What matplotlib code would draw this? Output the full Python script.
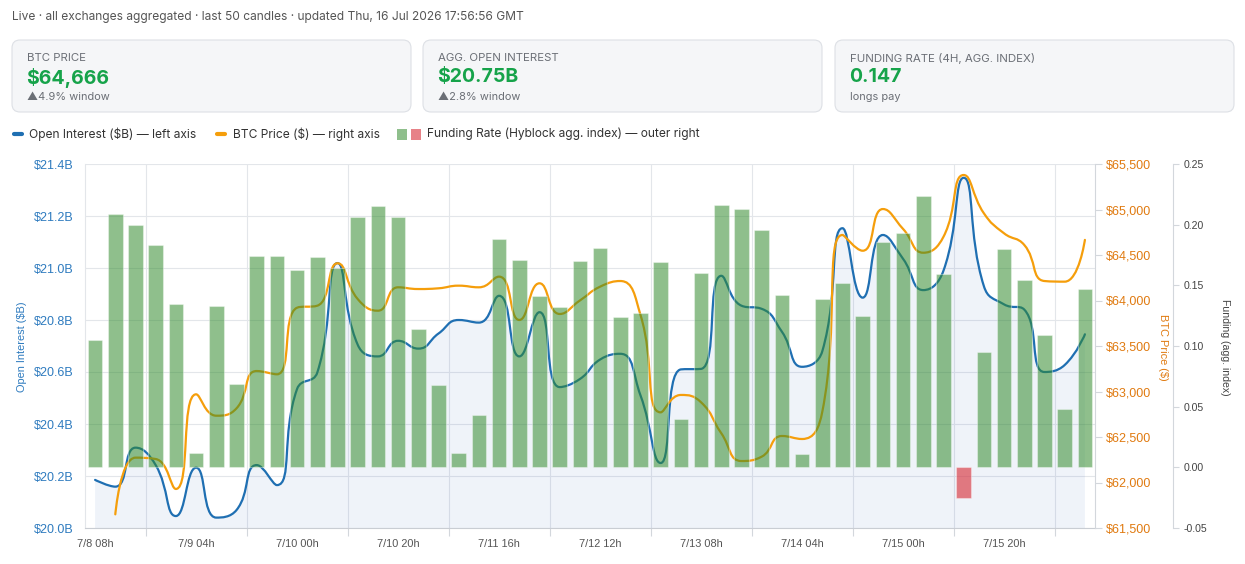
import numpy as np
import matplotlib
matplotlib.use("Agg")
import matplotlib.pyplot as plt
from matplotlib.path import Path
from matplotlib.patches import PathPatch, FancyBboxPatch, Rectangle
from matplotlib.lines import Line2D

plt.rcParams['font.family'] = ['Liberation Sans', 'DejaVu Sans']
UI_FONT = ['Inter', 'DejaVu Sans']

W, H = 1245, 564

# 4h candles, 7/8 08h .. 7/16 12h
oi_b = [20.185, 20.159, 20.309, 20.242, 20.046, 20.232, 20.040, 20.069, 20.242, 20.165,
        20.535, 20.598, 21.019, 20.705, 20.660, 20.720, 20.690, 20.748, 20.800, 20.790,
        20.893, 20.660, 20.830, 20.542, 20.573, 20.648, 20.670, 20.510, 20.250, 20.610,
        20.612, 20.970, 20.855, 20.843, 20.755, 20.620, 20.680, 21.153, 20.886, 21.127,
        21.035, 20.915, 20.990, 21.347, 20.930, 20.860, 20.840, 20.600, 20.627, 20.745]

price = [np.nan, 61650, 62273, 62258, 61929, 62969, 62734, 62815, 63225, 63189,
         63921, 63943, 64409, 64016, 63888, 64145, 64126, 64134, 64163, 64145,
         64262, 63786, 64189, 63852, 64000, 64152, 64214, 63841, 62771, 62962,
         62881, 62541, 62236, 62284, 62511, 62478, 62778, 64720, 64547, 65005,
         64786, 64525, 64701, 65379, 64958, 64738, 64610, 64214, 64207, 64666]

funding = [0.105, 0.209, 0.200, 0.183, 0.135, 0.012, 0.133, 0.069, 0.174, 0.174,
           0.163, 0.173, 0.164, 0.206, 0.215, 0.206, 0.114, 0.068, 0.012, 0.043,
           0.188, 0.171, 0.141, 0.132, 0.170, 0.181, 0.124, 0.127, 0.169, 0.040,
           0.160, 0.216, 0.213, 0.196, 0.142, 0.011, 0.139, 0.152, 0.125, 0.186,
           0.193, 0.224, 0.159, -0.025, 0.095, 0.180, 0.154, 0.109, 0.048, 0.147]

x_labels = ['7/8 08h', '7/9 04h', '7/10 00h', '7/10 20h', '7/11 16h',
            '7/12 12h', '7/13 08h', '7/14 04h', '7/15 00h', '7/15 20h']
label_step = 5

oi_ticks = [20.0, 20.2, 20.4, 20.6, 20.8, 21.0, 21.2, 21.4]
price_ticks = [61500, 62000, 62500, 63000, 63500, 64000, 64500, 65000, 65500]
fund_ticks = [-0.05, 0.0, 0.05, 0.10, 0.15, 0.20, 0.25]

cards = [("BTC PRICE", "$64,666", "\u25b24.9% window"),
         ("AGG. OPEN INTEREST", "$20.75B", "\u25b22.8% window"),
         ("FUNDING RATE (4H, AGG. INDEX)", "0.147", "longs pay")]

header = "Live \u00b7 all exchanges aggregated \u00b7 last 50 candles \u00b7 updated Thu, 16 Jul 2026 17:56:56 GMT"

BLUE = '#1f6fb2'
BLUE_TXT = '#2e7bbf'
ORANGE = '#f59e0b'
ORANGE_TXT = '#e07a10'
GREEN_BAR = (0.20, 0.55, 0.18, 0.55)
RED_BAR = (0.85, 0.21, 0.25, 0.65)
GREEN_TXT = '#16a34a'
GRID = '#e3e6ea'


def pt(px):
    return px * 0.72


def smooth_path(xs, ys, trans, smooth=0.5):
    # bezier through the points, same rule as echarts' smoothed lines
    pts = trans.transform(np.column_stack([xs, ys]))
    n = len(pts)
    verts = [pts[0]]
    codes = [Path.MOVETO]
    cp0 = pts[0]
    for i in range(1, n):
        x, y = pts[i]
        px_, py_ = pts[i - 1]
        if i == n - 1:
            cp1 = pts[i]
            ncp0 = None
        else:
            nx, ny = pts[i + 1]
            vx, vy = nx - px_, ny - py_
            lp = np.hypot(x - px_, y - py_)
            ln = np.hypot(nx - x, ny - y)
            r = ln / (ln + lp)
            ncx = x + vx * smooth * r
            ncy = y + vy * smooth * r
            ncx = max(min(ncx, max(nx, x)), min(nx, x))
            ncy = max(min(ncy, max(ny, y)), min(ny, y))
            vx, vy = ncx - x, ncy - y
            c1x = x - vx * lp / ln
            c1y = y - vy * lp / ln
            c1x = max(min(c1x, max(px_, x)), min(px_, x))
            c1y = max(min(c1y, max(py_, y)), min(py_, y))
            vx, vy = x - c1x, y - c1y
            ncp0 = np.array([x + vx * ln / lp, y + vy * ln / lp])
            cp1 = np.array([c1x, c1y])
        verts += [cp0, cp1, pts[i]]
        codes += [Path.CURVE4] * 3
        cp0 = ncp0
    return list(trans.inverted().transform(np.array(verts))), codes


fig = plt.figure(figsize=(W / 100, H / 100), dpi=100)

# page layer in pixel coordinates
bg = fig.add_axes([0, 0, 1, 1])
bg.set_xlim(0, W)
bg.set_ylim(H, 0)
bg.axis('off')

bg.text(12, 17, header, fontsize=pt(12), color='#555555', va='center', ha='left', family=UI_FONT)

card_x = [12, 423, 835]
card_w = 399
for (lab, val, sub), cx in zip(cards, card_x):
    bg.add_patch(FancyBboxPatch((cx, 40), card_w, 72, boxstyle="round,pad=0,rounding_size=8",
                                facecolor='#f5f6f8', edgecolor='#dde0e5', linewidth=0.8))
    bg.text(cx + 15, 58, lab, fontsize=pt(11.5), color='#6b6f76', va='center', ha='left',
            family=UI_FONT)
    bg.text(cx + 14, 77.5, val, fontsize=pt(19.5), color=GREEN_TXT, fontweight='bold',
            va='center', ha='left', family=UI_FONT)
    bg.text(cx + 15, 96.5, sub, fontsize=pt(11), color='#6b6f76', va='center', ha='left',
            family=UI_FONT)

# legend row
bg.add_line(Line2D([14, 22], [134, 134], color=BLUE, lw=3, solid_capstyle='round'))
bg.text(29, 134, "Open Interest ($B) \u2014 left axis", fontsize=pt(12), color='#333333',
        va='center', family=UI_FONT)
bg.add_line(Line2D([217, 225], [134, 134], color=ORANGE, lw=3, solid_capstyle='round'))
bg.text(233, 134, "BTC Price ($) \u2014 right axis", fontsize=pt(12), color='#333333',
        va='center', family=UI_FONT)
bg.add_patch(Rectangle((397, 128.5), 10, 11, facecolor=GREEN_BAR, edgecolor='none'))
bg.add_patch(Rectangle((411, 128.5), 10, 11, facecolor=(0.85, 0.21, 0.25, 0.62), edgecolor='none'))
bg.text(427, 134, "Funding Rate (Hyblock agg. index) \u2014 outer right", fontsize=pt(12),
        color='#333333', va='center', family=UI_FONT)

# axis titles
bg.text(22, 347, "Open Interest ($B)", rotation=90, fontsize=pt(11), color=BLUE_TXT,
        va='center', ha='center')
bg.text(1163, 347, "BTC Price ($)", rotation=270, fontsize=pt(11), color=ORANGE_TXT,
        va='center', ha='center')
bg.text(1225, 347, "Funding (agg. index)", rotation=270, fontsize=pt(10.5), color='#444444',
        va='center', ha='center')

# chart
ax = fig.add_axes([85 / W, 1 - 528 / H, 1010 / W, 364 / H])
ax.patch.set_visible(False)
n = len(oi_b)
idx = np.arange(n)
ax.set_xlim(-0.5, n - 0.5)
ax.set_ylim(oi_ticks[0], oi_ticks[-1])
ax.set_yticks(oi_ticks)
ax.set_yticklabels([f"${v:.1f}B" for v in oi_ticks])
ax.set_xticks(idx[::label_step])
ax.set_xticklabels(x_labels)
ax.set_xticks(np.arange(2.5, n, label_step), minor=True)
ax.set_axisbelow(True)
ax.grid(axis='y', which='major', color=GRID, lw=0.8)
ax.grid(axis='x', which='minor', color=GRID, lw=0.8)
ax.tick_params(axis='x', which='major', length=0, pad=8, labelsize=pt(11), labelcolor='#555555')
ax.tick_params(axis='x', which='minor', length=6, color='#d3d7dc', width=0.8)
ax.tick_params(axis='y', length=0, pad=8.5, labelsize=pt(12.5), labelcolor=BLUE_TXT)
for s in ['top', 'right']:
    ax.spines[s].set_visible(False)
ax.spines['left'].set_color(GRID)
ax.spines['bottom'].set_color('#c9cdd3')

ax2 = ax.twinx()
ax2.set_ylim(price_ticks[0], price_ticks[-1])
ax2.set_yticks(price_ticks)
ax2.set_yticklabels([f"${v:,}" for v in price_ticks])
ax2.tick_params(axis='y', length=5, width=0.8, color='#d3d7dc', pad=3,
                labelsize=pt(12.5), labelcolor=ORANGE_TXT)
for s in ['top', 'left', 'bottom']:
    ax2.spines[s].set_visible(False)
ax2.spines['right'].set_color('#d3d7dc')

ax3 = ax.twinx()
ax3.set_ylim(fund_ticks[0], fund_ticks[-1])
ax3.set_yticks(fund_ticks)
ax3.set_yticklabels([f"{v:.2f}" for v in fund_ticks])
ax3.spines['right'].set_position(('axes', (1173 - 85) / 1010))
ax3.tick_params(axis='y', length=4.5, width=0.8, color='#d3d7dc', pad=3,
                labelsize=pt(10.5), labelcolor='#444444')
for s in ['top', 'left', 'bottom']:
    ax3.spines[s].set_visible(False)
ax3.spines['right'].set_color('#d3d7dc')

# OI area + line
verts, codes = smooth_path(idx, oi_b, ax.transData)
area_v = verts + [(idx[-1], oi_ticks[0]), (idx[0], oi_ticks[0]), (idx[0], oi_ticks[0])]
area_c = codes + [Path.LINETO, Path.LINETO, Path.CLOSEPOLY]
ax.add_patch(PathPatch(Path(area_v, area_c), facecolor=(0.2, 0.4, 0.75, 0.08),
                       edgecolor='none', zorder=1))
ax.add_patch(PathPatch(Path(verts, codes), facecolor='none', edgecolor=BLUE, lw=1.6,
                       zorder=3, capstyle='round', joinstyle='round'))

# price line
pr = np.array(price, dtype=float)
ok = ~np.isnan(pr)
pv, pc = smooth_path(idx[ok], pr[ok], ax2.transData)
ax2.add_patch(PathPatch(Path(pv, pc), facecolor='none', edgecolor=ORANGE, lw=1.6,
                        zorder=3, capstyle='round', joinstyle='round'))

# funding bars
fcols = [GREEN_BAR if f >= 0 else RED_BAR for f in funding]
ax3.bar(idx, funding, width=0.72, color=fcols, edgecolor=(1, 1, 1, 0.35), linewidth=0.8, zorder=3)

fig.savefig('out.png', dpi=100)
